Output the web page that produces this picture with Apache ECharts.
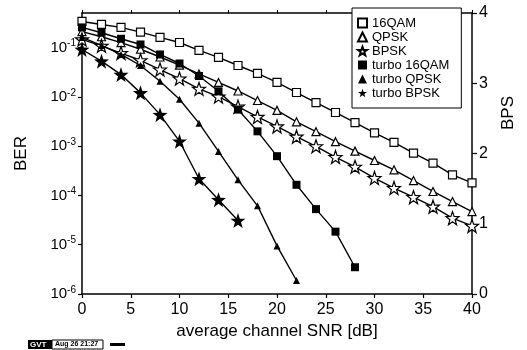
<!DOCTYPE html>
<html>
<head>
<meta charset="utf-8">
<script src="https://cdn.jsdelivr.net/npm/echarts@6/dist/echarts.min.js"></script>
<style>
html,body{margin:0;padding:0;background:#fff;}
#c{width:527px;height:350px;}
</style>
</head>
<body>
<div id="c"></div>
<script>
// ---- data ----
const snr = [0,2,4,6,8,10,12,14,16,18,20,22,24,26,28,30,32,34,36,38,40];
const qam16 = [0.337,0.293,0.255,0.205,0.160,0.126,0.087,0.0627,0.0431,0.0297,0.0195,0.0122,0.0076,0.0048,0.0030,0.00185,0.00119,0.00072,0.00045,0.00026,0.00018];
const qpsk = [0.21,0.165,0.125,0.092,0.064,0.044,0.029,0.0195,0.0131,0.0084,0.0053,0.0031,0.00196,0.00123,0.00079,0.00051,0.00033,0.00020,0.00012,0.000075,0.000047];
const bpsk = [0.146,0.108,0.077,0.055,0.0357,0.0234,0.0145,0.0101,0.0063,0.0039,0.0025,0.00155,0.00099,0.0006,0.00038,0.000225,0.000141,0.000092,0.000059,0.0000346,0.0000241];
const turbo16qam = [0.255,0.199,0.150,0.115,0.0721,0.0473,0.0264,0.0129,0.0055,0.00199,0.000624,0.000164,0.0000527,0.0000184,0.00000349];
const turboQpsk = [0.160,0.110,0.0721,0.0431,0.0207,0.00889,0.00292,0.00078,0.000207,0.0000615,0.00000946,0.00000188];
const turboBpsk = [0.091,0.0527,0.0282,0.0120,0.00434,0.00125,0.000217,0.0000815,0.0000309];
const seriesNames = ['16QAM','QPSK','BPSK','turbo 16QAM','turbo QPSK','turbo BPSK'];
const xTicks = [0,5,10,15,20,25,30,35,40];
const bpsTicks = [0,1,2,3,4];

const FONT = 'Liberation Sans, Arial, sans-serif';
const STAR = 'path://M0,-10L2.35,-3.24L9.51,-3.09L3.8,1.24L5.88,8.09L0,4L-5.88,8.09L-3.8,1.24L-9.51,-3.09L-2.35,-3.24Z';

function pairs(vals){ return vals.map((v,i)=>[snr[i], v]); }

const symbols = ['rect','triangle',STAR,'rect','triangle',STAR];
const sizes = [8,8,13,8,7,15];
const open = [true,true,true,false,false,false];
const values = [qam16,qpsk,bpsk,turbo16qam,turboQpsk,turboBpsk];

const series = seriesNames.map((n,k)=>({
  name:n, type:'line', xAxisIndex:0, yAxisIndex:0,
  data:pairs(values[k]),
  symbol:symbols[k], symbolSize:sizes[k], showAllSymbol:true,
  lineStyle:{color:'#000', width:1.4},
  itemStyle: open[k] ? {color:'#fff', borderColor:'#000', borderWidth:1.2} : {color:'#000', borderColor:'#000', borderWidth:0},
  emphasis:{disabled:true},
  animation:false,
  z: open[k] ? 3 : 4
}));

const chart = echarts.init(document.getElementById('c'), null, {renderer:'canvas'});
chart.setOption({
  backgroundColor:'#fff',
  animation:false,
  textStyle:{fontFamily:FONT, color:'#000'},
  grid:{left:82, right:55, top:13, bottom:56},
  legend:{
    orient:'vertical', left:352, top:8,
    padding:[8,12,8,5], itemGap:0,
    itemWidth:9, itemHeight:9,
    backgroundColor:'#fff', borderColor:'#000', borderWidth:1,
    textStyle:{fontFamily:FONT, fontSize:13, color:'#000', lineHeight:14},
    data: seriesNames.map((n,k)=>({name:n, icon: symbols[k]})),
    selectedMode:false,
    z:20
  },
  xAxis:[{
    type:'value', min:0, max:40, interval:5, position:'bottom',
    axisLine:{show:true, onZero:false, lineStyle:{color:'#000', width:1.5}},
    axisTick:{show:true, inside:false, length:4, lineStyle:{color:'#000', width:1.2}},
    axisLabel:{show:true, fontSize:16, color:'#000', margin:8, fontFamily:FONT,
      formatter:v=> xTicks.includes(v) ? String(v) : ''},
    splitLine:{show:false},
    name:'average channel SNR [dB]', nameLocation:'middle', nameGap:27,
    nameTextStyle:{fontSize:17, color:'#000', fontFamily:FONT}
  },{
    type:'value', min:0, max:40, interval:5, position:'top',
    axisLine:{show:true, onZero:false, lineStyle:{color:'#000', width:1.5}},
    axisTick:{show:true, inside:false, length:3, lineStyle:{color:'#000', width:1}},
    axisLabel:{show:false}, splitLine:{show:false}
  }],
  yAxis:[{
    type:'log', logBase:10, min:1e-6, max:0.5, position:'left',
    axisLine:{show:true, onZero:false, lineStyle:{color:'#000', width:1.5}},
    axisTick:{show:true, inside:false, length:4, lineStyle:{color:'#000', width:1.2}},
    axisLabel:{show:true, margin:6, showMaxLabel:false, color:'#000', fontFamily:FONT,
      formatter:v=>{ const e=Math.round(Math.log10(v)); return '{b|10}{s|'+e+'}'; },
      rich:{b:{fontSize:15, color:'#000', fontFamily:FONT}, s:{fontSize:10, color:'#000', fontFamily:FONT, padding:[0,0,8,0]}}},
    splitLine:{show:false}, minorTick:{show:false},
    name:'BER', nameLocation:'middle', nameGap:52,
    nameTextStyle:{fontSize:17, color:'#000', fontFamily:FONT}
  },{
    type:'value', min:0, max:4, interval:1, position:'right',
    axisLine:{show:true, onZero:false, lineStyle:{color:'#000', width:1.5}},
    axisTick:{show:true, inside:false, length:5, lineStyle:{color:'#000', width:1.2}},
    axisLabel:{show:true, fontSize:16, color:'#000', margin:7, fontFamily:FONT,
      formatter:v=> bpsTicks.includes(v) ? String(v) : ''},
    splitLine:{show:false}
  }],
  graphic:[
    {type:'text', left:500, top:96, rotation:Math.PI/2,
      style:{text:'BPS', fontSize:17, fill:'#000', fontFamily:FONT}, z:10},
    {type:'rect', shape:{x:28, y:340, width:24, height:9}, style:{fill:'#000'}, z:10},
    {type:'text', x:30, y:341, style:{text:'GVT', fontSize:8, fontWeight:'bold', fill:'#fff', fontFamily:FONT}, z:11},
    {type:'rect', shape:{x:52, y:340, width:51, height:9}, style:{fill:'#fff', stroke:'#000', lineWidth:1}, z:10},
    {type:'text', x:55, y:341, style:{text:'Aug 26 21:27', fontSize:7, fontWeight:'bold', fill:'#000', fontFamily:FONT}, z:11},
    {type:'rect', shape:{x:110, y:343, width:15, height:3}, style:{fill:'#000'}, z:10}
  ],
  series:series
});
</script>
</body>
</html>
